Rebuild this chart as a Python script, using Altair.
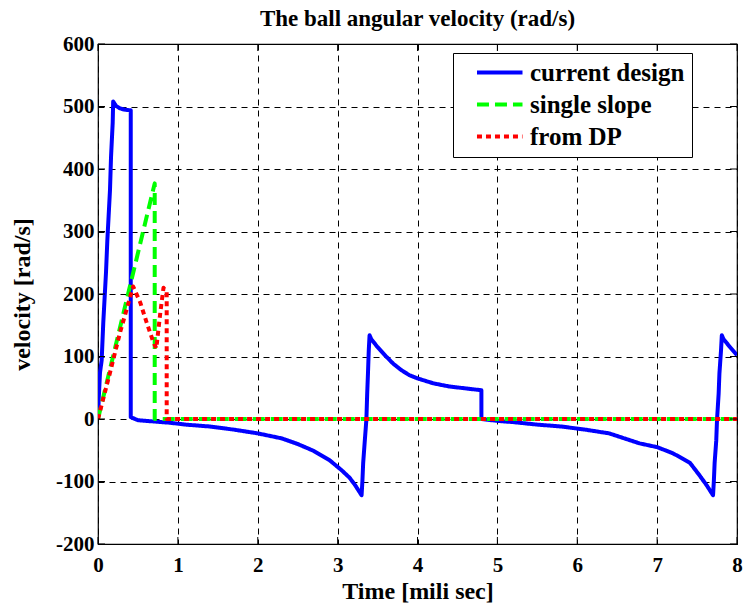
import altair as alt
import pandas as pd

# Time [ms] and angular velocity [rad/s] of each profile
blue_t = [0, 0.01, 0.025, 0.046, 0.066, 0.10, 0.117, 0.15, 0.163, 0.184, 0.19, 0.20,
          0.225, 0.275, 0.33, 0.40, 0.41, 0.41, 0.5, 0.7, 0.9, 1.1, 1.4, 1.7, 2.0,
          2.3, 2.5, 2.7, 2.9, 3.05, 3.15, 3.22, 3.30, 3.31, 3.32, 3.34, 3.36, 3.37,
          3.38, 3.39, 3.40, 3.42, 3.5, 3.6, 3.7, 3.8, 3.9, 4.0, 4.2, 4.4, 4.6, 4.8,
          4.8, 5.0, 5.2, 5.5, 5.8, 6.1, 6.4, 6.78, 7.0, 7.2, 7.41, 7.53, 7.62, 7.70,
          7.71, 7.72, 7.74, 7.75, 7.77, 7.78, 7.80, 7.81, 7.83, 7.9, 8.0]
blue_v = [0, 35, 74, 94, 154, 234, 286, 366, 419, 474, 508, 506,
          501, 497, 495, 494, 494, 3, -2, -4, -6, -9, -12, -17, -23,
          -31, -40, -51, -66, -82, -94, -106, -122, -100, -70, -35, -1, 40,
          73, 110, 134, 128, 115, 101, 88, 78, 70, 65, 57, 52, 49, 46,
          0, -3, -5, -9, -12, -17, -23, -39, -45, -55, -70, -90, -106, -122,
          -100, -70, -35, -1, 40, 73, 110, 134, 128, 117, 102]

green_t = [0, 0.71, 0.71, 8.0]
green_v = [0, 377, 0, 0]

red_t = [0, 0.15, 0.275, 0.44, 0.53, 0.61, 0.69, 0.73, 0.78, 0.82, 0.85, 0.86, 0.86, 8.0]
red_v = [0, 74, 138, 212, 186, 154, 124, 113, 170, 210, 204, 203, 0, 0]

series_names = ["current design", "single slope", "from DP"]
series_colors = ["#0000ff", "#00ff00", "#ff0000"]
series_dashes = [[1, 0], [12, 6], [5, 4]]

x_ticks = list(range(0, 9))
y_ticks = list(range(-200, 601, 100))

FONT = "Liberation Serif"

frames = []
for name, ts, vs in zip(series_names, [blue_t, green_t, red_t], [blue_v, green_v, red_v]):
    frames.append(pd.DataFrame({"t": ts, "v": vs, "series": name,
                                "order": range(len(ts))}))
df = pd.concat(frames, ignore_index=True)

x_scale = alt.Scale(domain=[0, 8], nice=False)
y_scale = alt.Scale(domain=[-200, 600], nice=False)
color_scale = alt.Scale(domain=series_names, range=series_colors)
dash_scale = alt.Scale(domain=series_names, range=series_dashes)

legend = alt.Legend(
    title=None, orient="none", legendX=355, legendY=9,
    symbolType="M2.24,0H25", symbolSize=16, symbolStrokeWidth=4,
    labelFont=FONT, labelFontSize=25, labelFontWeight="bold", labelColor="black",
    labelOffset=45, fillColor="white", strokeColor="black",
    padding=7, rowPadding=6, labelLimit=300,
)

# plain hyphen for negative tick labels
plain_minus = "(datum.value < 0 ? '-' : '') + abs(datum.value)"

x_axis = alt.Axis(
    values=x_ticks, title="Time [mili sec]", grid=True, gridDash=[6, 5],
    gridColor="black", gridOpacity=1, gridWidth=1, domain=False, ticks=False,
    labelFont=FONT, labelFontSize=21, labelFontWeight="bold", labelColor="black",
    labelPadding=10, titleFont=FONT, titleFontSize=24, titleFontWeight="bold",
    titleColor="black", titlePadding=4, labelFlush=False,
)
y_axis = alt.Axis(
    values=y_ticks, title="velocity [rad/s]", grid=True, gridDash=[6, 5],
    gridColor="black", gridOpacity=1, gridWidth=1, domain=False, ticks=False,
    labelFont=FONT, labelFontSize=21, labelFontWeight="bold", labelColor="black",
    labelPadding=4, titleFont=FONT, titleFontSize=24, titleFontWeight="bold",
    titleColor="black", titlePadding=21, labelFlush=False, labelExpr=plain_minus,
)

X = alt.X("t:Q", scale=x_scale, axis=x_axis)
Y = alt.Y("v:Q", scale=y_scale, axis=y_axis)


def series_layer(name):
    return alt.Chart(df).transform_filter(alt.datum.series == name).mark_line(
        strokeWidth=4, strokeJoin="round", clip=True
    ).encode(
        x=X, y=Y,
        color=alt.Color("series:N", scale=color_scale, legend=legend),
        strokeDash=alt.StrokeDash("series:N", scale=dash_scale, legend=legend),
        order="order:Q",
    )


xt = pd.DataFrame({"t": x_ticks})
yt = pd.DataFrame({"v": y_ticks})
TICK = 7

# inward tick marks on all four sides of the frame
tick_layers = [
    alt.Chart(xt).mark_rule(color="black", strokeWidth=1).encode(
        x=X, y=alt.value(0), y2=alt.value(TICK)),
    alt.Chart(xt).mark_rule(color="black", strokeWidth=1).encode(
        x=X, y=alt.value(500 - TICK), y2=alt.value(500)),
    alt.Chart(yt).mark_rule(color="black", strokeWidth=1).encode(
        y=Y, x=alt.value(0), x2=alt.value(TICK)),
    alt.Chart(yt).mark_rule(color="black", strokeWidth=1).encode(
        y=Y, x=alt.value(639 - TICK), x2=alt.value(639)),
]

chart = alt.layer(
    series_layer("current design"),
    series_layer("single slope"),
    series_layer("from DP"),
    *tick_layers,
).properties(
    width=639, height=500,
    autosize=alt.AutoSizeParams(type="none"),
    padding={"left": 98, "top": 44, "right": 6, "bottom": 65},
    title=alt.TitleParams(
        "The ball angular velocity (rad/s)", font=FONT, fontSize=23,
        fontWeight="bold", color="black", anchor="middle", frame="group",
        offset=2,
    ),
    background="white",
).configure_view(stroke="black", strokeWidth=1.2)

chart.save("out.html", embed_options={"renderer": "svg", "actions": False})
